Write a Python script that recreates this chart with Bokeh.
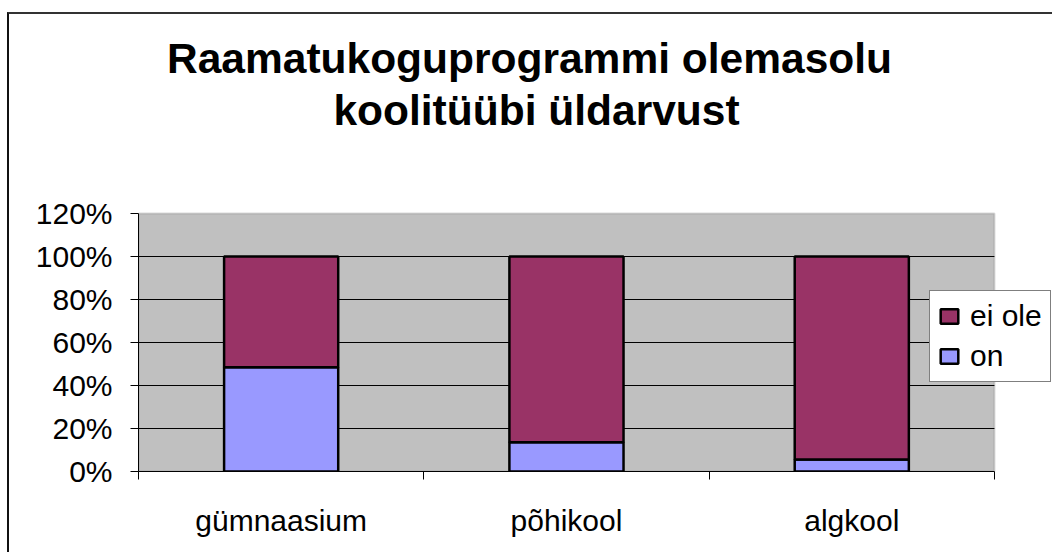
from bokeh.plotting import figure
from bokeh.models import (Range1d, FixedTicker, PrintfTickFormatter, Legend, LegendItem,
                          ColumnDataSource, BoxAnnotation, Label)
from bokeh.embed import file_html
from bokeh.resources import INLINE

# ---- data ----
categories = ["gümnaasium", "põhikool", "algkool"]
series_names = ["on", "ei ole"]
on_values = [48.5, 13.6, 5.6]
ei_ole_values = [51.5, 86.4, 94.4]
y_ticks = [0, 20, 40, 60, 80, 100, 120]
title_lines = ["Raamatukoguprogrammi olemasolu", "koolitüübi üldarvust"]

FONT = "Liberation Sans"
n = len(categories)

centers = [i + 0.5 for i in range(n)]
source = ColumnDataSource(dict(x=centers, on=on_values, ei_ole=ei_ole_values))

# frame covers title area and legend overhang; grey plot area is drawn inside it
x_end = n * 915 / 855
y_end = y_ticks[-1] * 457 / 258

p = figure(width=1045, height=540, output_backend="svg", toolbar_location=None,
           title=None,
           x_range=Range1d(0, x_end), y_range=Range1d(y_ticks[0], y_end),
           min_border_left=129, min_border_right=0, min_border_bottom=83,
           min_border_top=0)
p.styles = {"border-top": "2px solid #333333", "border-left": "2px solid #111111",
            "margin-top": "12px", "margin-left": "7px"}

p.background_fill_color = "white"
p.border_fill_color = "white"
p.outline_line_color = None

# plot area (grey) restricted to category extent
p.add_layout(BoxAnnotation(left=0, right=n, bottom=y_ticks[0], top=y_ticks[-1],
                           fill_color="#C0C0C0", fill_alpha=1,
                           line_color="#808080", line_width=2, level="underlay"))

# titles
for txt, sx, sy in [(title_lines[0], 391, 413), (title_lines[1], 398, 361)]:
    p.add_layout(Label(x=sx, y=sy, x_units="screen", y_units="screen", text=txt,
                       text_align="center", text_baseline="alphabetic",
                       text_font=FONT, text_font_size="42.5px",
                       text_font_style="bold", text_color="black"))

# grid lines
grid_y = y_ticks[1:-1]
p.segment(x0=[0] * len(grid_y), x1=[n] * len(grid_y), y0=grid_y, y1=grid_y,
          line_color="black", line_width=1)

renderers = p.vbar_stack(["on", "ei_ole"], x="x", width=0.4, source=source,
                         fill_color=["#9999FF", "#993366"], line_color="black",
                         line_width=2.5)

# y axis
ya = p.yaxis[0]
ya.bounds = (y_ticks[0], y_ticks[-1])
ya.ticker = FixedTicker(ticks=y_ticks)
ya.formatter = PrintfTickFormatter(format="%d%%")
ya.major_label_text_font = FONT
ya.major_label_text_font_size = "30px"
ya.major_label_text_color = "black"
ya.major_tick_out = 8
ya.major_tick_in = 0
ya.minor_tick_out = 0
ya.minor_tick_in = 0
ya.axis_line_color = "black"
ya.axis_line_width = 1
ya.major_tick_line_color = "black"
ya.major_label_standoff = 18

# x axis
xa = p.xaxis[0]
xa.bounds = (0, n)
xa.ticker = FixedTicker(ticks=centers, minor_ticks=list(range(n + 1)))
xa.major_label_overrides = {c: name for c, name in zip(centers, categories)}
xa.major_label_text_font = FONT
xa.major_label_text_font_size = "30px"
xa.major_label_text_color = "black"
xa.major_tick_out = 0
xa.major_tick_in = 0
xa.minor_tick_out = 8
xa.minor_tick_in = 0
xa.minor_tick_line_color = "black"
xa.axis_line_color = "black"
xa.axis_line_width = 1
xa.major_label_standoff = 24

p.xgrid.grid_line_color = None
p.ygrid.grid_line_color = None

legend = Legend(items=[LegendItem(label=series_names[1], renderers=[renderers[1]]),
                       LegendItem(label=series_names[0], renderers=[renderers[0]])],
                location=(791, 89))
legend.label_text_font = FONT
legend.label_text_font_size = "30px"
legend.label_text_color = "black"
legend.glyph_width = 22
legend.glyph_height = 18
legend.label_standoff = 10
legend.spacing = 6
legend.padding = 8
legend.margin = 0
legend.border_line_color = "black"
legend.border_line_width = 1
legend.background_fill_color = "white"
legend.background_fill_alpha = 1
p.add_layout(legend, "center")

open("out.html", "w").write(file_html(p, INLINE))
